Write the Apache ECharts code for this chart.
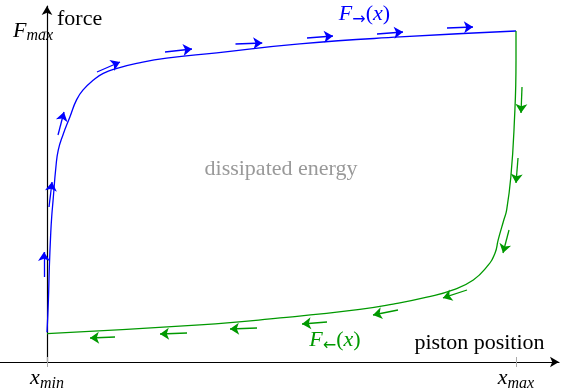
<!DOCTYPE html>
<html><head><meta charset="utf-8">
<script src="https://cdn.jsdelivr.net/npm/echarts@6/dist/echarts.min.js"></script>
<style>html,body{margin:0;padding:0;background:#fff}#c{width:564px;height:392px}</style>
</head><body><div id="c"></div>
<script>
// Data (x: piston position, 0 = x_min, 1 = x_max; y: force, 1 = F_max)
const blueX = [0, 0.003, 0.005, 0.008, 0.010, 0.013, 0.019, 0.024, 0.034, 0.049, 0.063, 0.077, 0.099, 0.120, 0.149, 0.191, 0.255, 0.362, 0.539, 0.753, 1.0];
const blueY = [0.09, 0.187, 0.287, 0.39, 0.438, 0.489, 0.589, 0.640, 0.686, 0.741, 0.792, 0.822, 0.852, 0.872, 0.887, 0.902, 0.918, 0.934, 0.961, 0.982, 1.0];
const greenX = [1.0, 1.0, 0.996, 0.989, 0.980, 0.974, 0.962, 0.955, 0.938, 0.909, 0.866, 0.810, 0.738, 0.667, 0.497, 0.326, 0];
const greenY = [1.0, 0.912, 0.710, 0.559, 0.459, 0.429, 0.369, 0.328, 0.288, 0.248, 0.218, 0.196, 0.175, 0.159, 0.133, 0.112, 0.086];
// direction arrows: [x1, y1, x2, y2]
const blueArrows = [
  [-0.0064, 0.2568, -0.0064, 0.3323],
  [0.0043, 0.4683, 0.0107, 0.5438],
  [0.0235, 0.6858, 0.0362, 0.7553],
  [0.1066, 0.8761, 0.1557, 0.9063],
  [0.2516, 0.9366, 0.3092, 0.9456],
  [0.4019, 0.9607, 0.4590, 0.9637],
  [0.5544, 0.9789, 0.6098, 0.9849],
  [0.7036, 0.9909, 0.7591, 0.9970],
  [0.8529, 1.0091, 0.9083, 1.0121]
];
const greenArrows = [
  [1.0128, 0.8308, 1.0107, 0.7523],
  [1.0043, 0.6163, 1.0, 0.5408],
  [0.9851, 0.3988, 0.9723, 0.3293],
  [0.8955, 0.2175, 0.8443, 0.1934],
  [0.7484, 0.1571, 0.6951, 0.1420],
  [0.5970, 0.1208, 0.5437, 0.1148],
  [0.4478, 0.1027, 0.3902, 0.0997],
  [0.2985, 0.0876, 0.2409, 0.0846],
  [0.1450, 0.0755, 0.0917, 0.0725]
];
const xTickValues = [0, 1];
const xTickSubs = ['min', 'max'];
const yTickValues = [1];
const yTickMain = 'F';
const yTickSub = 'max';

const FONT = '"Liberation Serif", serif';
const BLUE = '#0000ff';
const GREEN = '#009900';

function zip(xs, ys) { return xs.map((x, i) => [x, ys[i]]); }
function arrowData(arr) { return arr.map(a => ({ coords: [[a[0], a[1]], [a[2], a[3]]] })); }

const mathRich = {
  m: { fontFamily: FONT, fontStyle: 'italic', fontSize: 22, lineHeight: 26, color: '#000' },
  s: { fontFamily: FONT, fontStyle: 'italic', fontSize: 16, lineHeight: 14, verticalAlign: 'bottom', color: '#000' }
};
function labelRich(color) {
  return {
    F: { fontFamily: FONT, fontStyle: 'italic', fontSize: 22, lineHeight: 26, fill: color, color: color },
    a: { fontFamily: '"DejaVu Sans", sans-serif', fontSize: 16, lineHeight: 16, verticalAlign: 'bottom', fill: color, color: color },
    p: { fontFamily: FONT, fontSize: 22, lineHeight: 26, fill: color, color: color },
    x: { fontFamily: FONT, fontStyle: 'italic', fontSize: 22, lineHeight: 26, fill: color, color: color }
  };
}

const chart = echarts.init(document.getElementById('c'), null, { renderer: 'canvas' });
chart.setOption({
  animation: false,
  backgroundColor: '#fff',
  grid: { left: 0, right: 5, top: 6, bottom: 30, containLabel: false },
  xAxis: [{
    type: 'value', min: -47 / 469, max: 512 / 469,
    splitLine: { show: false },
    axisLine: { show: true, onZero: true, symbol: ['none', 'arrow'], symbolSize: [8, 9], lineStyle: { color: '#000', width: 1.2 } },
    axisTick: { show: true, customValues: xTickValues, length: 5, lineStyle: { color: '#aaa', width: 1 } },
    axisLabel: {
      show: true, customValues: xTickValues, margin: 3.6, lineHeight: 26,
      formatter: v => '{m|x}{s|' + xTickSubs[xTickValues.indexOf(v)] + '}',
      rich: mathRich
    }
  }, {
    type: 'value', min: -47 / 469, max: 512 / 469, position: 'bottom',
    splitLine: { show: false },
    axisLine: { show: false, onZero: true },
    axisTick: { show: true, inside: true, customValues: xTickValues, length: 5, lineStyle: { color: '#aaa', width: 1 } },
    axisLabel: { show: false }
  }],
  yAxis: [{
    type: 'value', min: 0, max: 356 / 331,
    splitLine: { show: false },
    axisLine: { show: true, onZero: true, symbol: ['none', 'arrow'], symbolSize: [8, 9], lineStyle: { color: '#000', width: 1.2 } },
    axisTick: { show: true, customValues: yTickValues, length: 5, lineStyle: { color: '#aaa', width: 1 } },
    axisLabel: {
      show: true, inside: true, align: 'left', customValues: yTickValues, margin: 13, lineHeight: 26,
      formatter: () => '{m|' + yTickMain + '}{s|' + yTickSub + '}',
      rich: mathRich
    }
  }],
  series: [
    { type: 'line', data: zip(blueX, blueY), smooth: 0.5, showSymbol: false, lineStyle: { color: BLUE, width: 1.3 }, itemStyle: { color: BLUE }, clip: false, z: 3 },
    { type: 'line', data: zip(greenX, greenY), smooth: 0.5, showSymbol: false, lineStyle: { color: GREEN, width: 1.3 }, itemStyle: { color: GREEN }, clip: false, z: 3 },
    { type: 'lines', coordinateSystem: 'cartesian2d', data: arrowData(blueArrows), symbol: ['none', 'arrow'], symbolSize: 9, lineStyle: { color: BLUE, width: 1.3, opacity: 1, curveness: 0 }, z: 4 },
    { type: 'lines', coordinateSystem: 'cartesian2d', data: arrowData(greenArrows), symbol: ['none', 'arrow'], symbolSize: 9, lineStyle: { color: GREEN, width: 1.3, opacity: 1, curveness: 0 }, z: 4 }
  ],
  graphic: [
    { type: 'text', z: 10, style: { text: 'force', x: 57, y: 19.3, font: '22px ' + FONT, fill: '#000', align: 'left', verticalAlign: 'middle' } },
    { type: 'text', z: 10, style: { text: 'piston position', x: 479.5, y: 343.6, font: '22px ' + FONT, fill: '#000', align: 'center', verticalAlign: 'middle' } },
    { type: 'text', z: 10, style: { text: 'dissipated energy', x: 281, y: 169.3, font: '22px ' + FONT, fill: '#999', align: 'center', verticalAlign: 'middle' } },
    { type: 'text', z: 10, style: {
      text: '{F|F}{a|→}{p|(}{x|x}{p|)}', x: 364.5, y: 14.6, align: 'center', verticalAlign: 'middle',
      rich: labelRich(BLUE) } },
    { type: 'text', z: 10, style: {
      text: '{F|F}{a|←}{p|(}{x|x}{p|)}', x: 335, y: 340.6, align: 'center', verticalAlign: 'middle',
      rich: labelRich(GREEN) } }
  ]
});
</script>
</body></html>
